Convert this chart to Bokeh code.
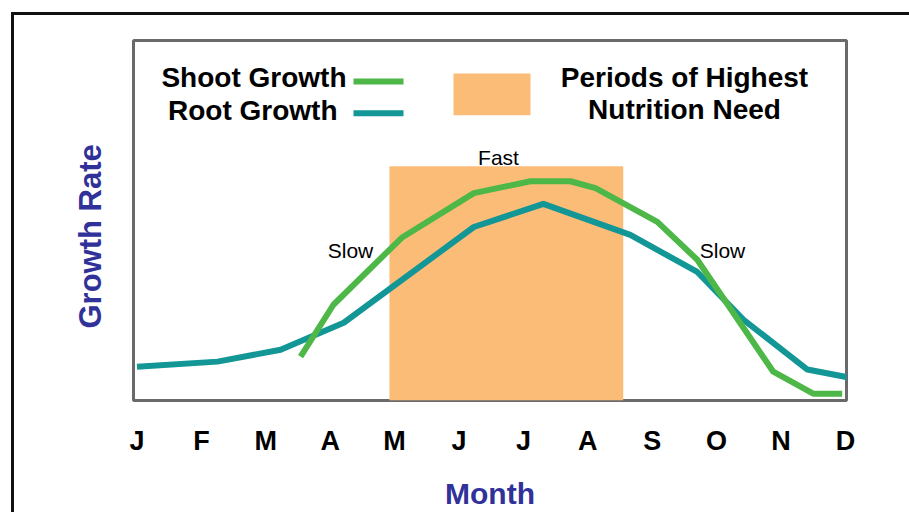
from math import pi
from bokeh.plotting import figure
from bokeh.layouts import column
from bokeh.models import Range1d, FixedTicker, Label, BoxAnnotation, Title
from bokeh.embed import file_html
from bokeh.resources import INLINE

# ---- data ----
months = ["J", "F", "M", "A", "M", "J", "J", "A", "S", "O", "N", "D"]
month_pos = list(range(12))

shoot_x = [2.54, 3.05, 4.11, 5.23, 6.11, 6.73, 7.12, 8.08, 8.70, 9.88, 10.50, 10.95]
shoot_y = [12.2, 26.6, 45.2, 57.6, 60.9, 60.9, 59.0, 49.6, 39.1, 8.0, 1.9, 1.9]

root_x = [0.0, 1.25, 2.23, 3.21, 5.23, 6.31, 7.66, 8.70, 9.42, 10.41, 11.05]
root_y = [9.4, 10.8, 14.1, 21.6, 48.2, 54.6, 46.0, 35.7, 22.4, 8.6, 6.4]

need_start = [3.92]
need_end = [7.55]
need_top = [65.1]

# ---- styling helpers (page pixel -> data coords for annotations) ----
X0, XS = 136.5, 64.4
Y0, YS = 401.0, 3.61
def dx(px):
    return (px - X0) / XS
def dy(py):
    return (Y0 - py) / YS

GREEN = "#4DB848"
TEAL = "#129696"
ORANGE = "#FBBC78"
BLUE = "#31319A"
FONT = "Liberation Sans"

OX, OY = 14, 15   # page position of the figure inside the black frame

p = figure(width=909 - OX, height=512 - OY, output_backend="svg", toolbar_location=None,
           x_range=Range1d(dx(133), dx(846)), y_range=Range1d(0, 100),
           min_border_left=133 - OX, min_border_right=909 - 846,
           min_border_top=40 - OY, min_border_bottom=512 - 401)
p.background_fill_color = "white"
p.border_fill_color = "white"
p.outline_line_color = "#6A6A6A"
p.outline_line_width = 3
p.xgrid.visible = False
p.ygrid.visible = False
p.yaxis.visible = False

ax = p.xaxis[0]
ax.ticker = FixedTicker(ticks=month_pos)
ax.major_label_overrides = {i: m for i, m in zip(month_pos, months)}
ax.axis_line_color = None
ax.major_tick_line_color = None
ax.minor_tick_line_color = None
ax.major_tick_out = 0
ax.major_label_standoff = 25
ax.major_label_text_font = FONT
ax.major_label_text_font_style = "bold"
ax.major_label_text_font_size = "27px"
ax.major_label_text_color = "black"
ax.axis_label = "Month"
ax.axis_label_standoff = 18
ax.axis_label_text_font = FONT
ax.axis_label_text_font_style = "bold"
ax.axis_label_text_font_size = "30px"
ax.axis_label_text_color = BLUE

ytitle = Title(text="Growth Rate", align="left", offset=72, standoff=52,
               text_font=FONT, text_font_style="bold", text_font_size="31px",
               text_color=BLUE)
p.add_layout(ytitle, "left")

# nutrition-need period
p.quad(left=need_start, right=need_end, bottom=[0], top=need_top,
       fill_color=ORANGE, line_color=None)

p.line(root_x, root_y, line_color=TEAL, line_width=6, line_join="round")
p.line(shoot_x, shoot_y, line_color=GREEN, line_width=6, line_join="round")

# legend
p.add_layout(BoxAnnotation(left=dx(353), right=dx(403), top=dy(78), bottom=dy(84),
                           fill_color=GREEN, fill_alpha=1, line_color=None))
p.add_layout(BoxAnnotation(left=dx(353), right=dx(403), top=dy(110), bottom=dy(116),
                           fill_color=TEAL, fill_alpha=1, line_color=None))
p.add_layout(BoxAnnotation(left=dx(453), right=dx(530), top=dy(73), bottom=dy(115),
                           fill_color=ORANGE, fill_alpha=1, line_color=None))

def lab(text, px, py, size, align="left", style="bold", color="black"):
    s = float(size.replace("px", ""))
    p.add_layout(Label(x=dx(px), y=dy(py - 0.37 * s), text=text, text_font=FONT,
                       text_font_style=style, text_font_size=size,
                       text_color=color, text_align=align,
                       text_baseline="alphabetic"))

lab("Shoot Growth", 346, 87, "28px", align="right")
lab("Root Growth", 337, 121, "28px", align="right")
lab("Periods of Highest", 684, 87, "28px", align="center")
lab("Nutrition Need", 684, 120, "28px", align="center")

lab("Fast", 498, 165, "21px", align="center", style="normal")
lab("Slow", 350, 258, "21px", align="center", style="normal")
lab("Slow", 722, 258, "21px", align="center", style="normal")

layout = column(p, margin=(OY - 3, 0, 0, OX - 3),
                styles={"border-left": "3px solid #111111",
                        "border-top": "3px solid #111111"})

open("out.html", "w").write(file_html(layout, INLINE))
